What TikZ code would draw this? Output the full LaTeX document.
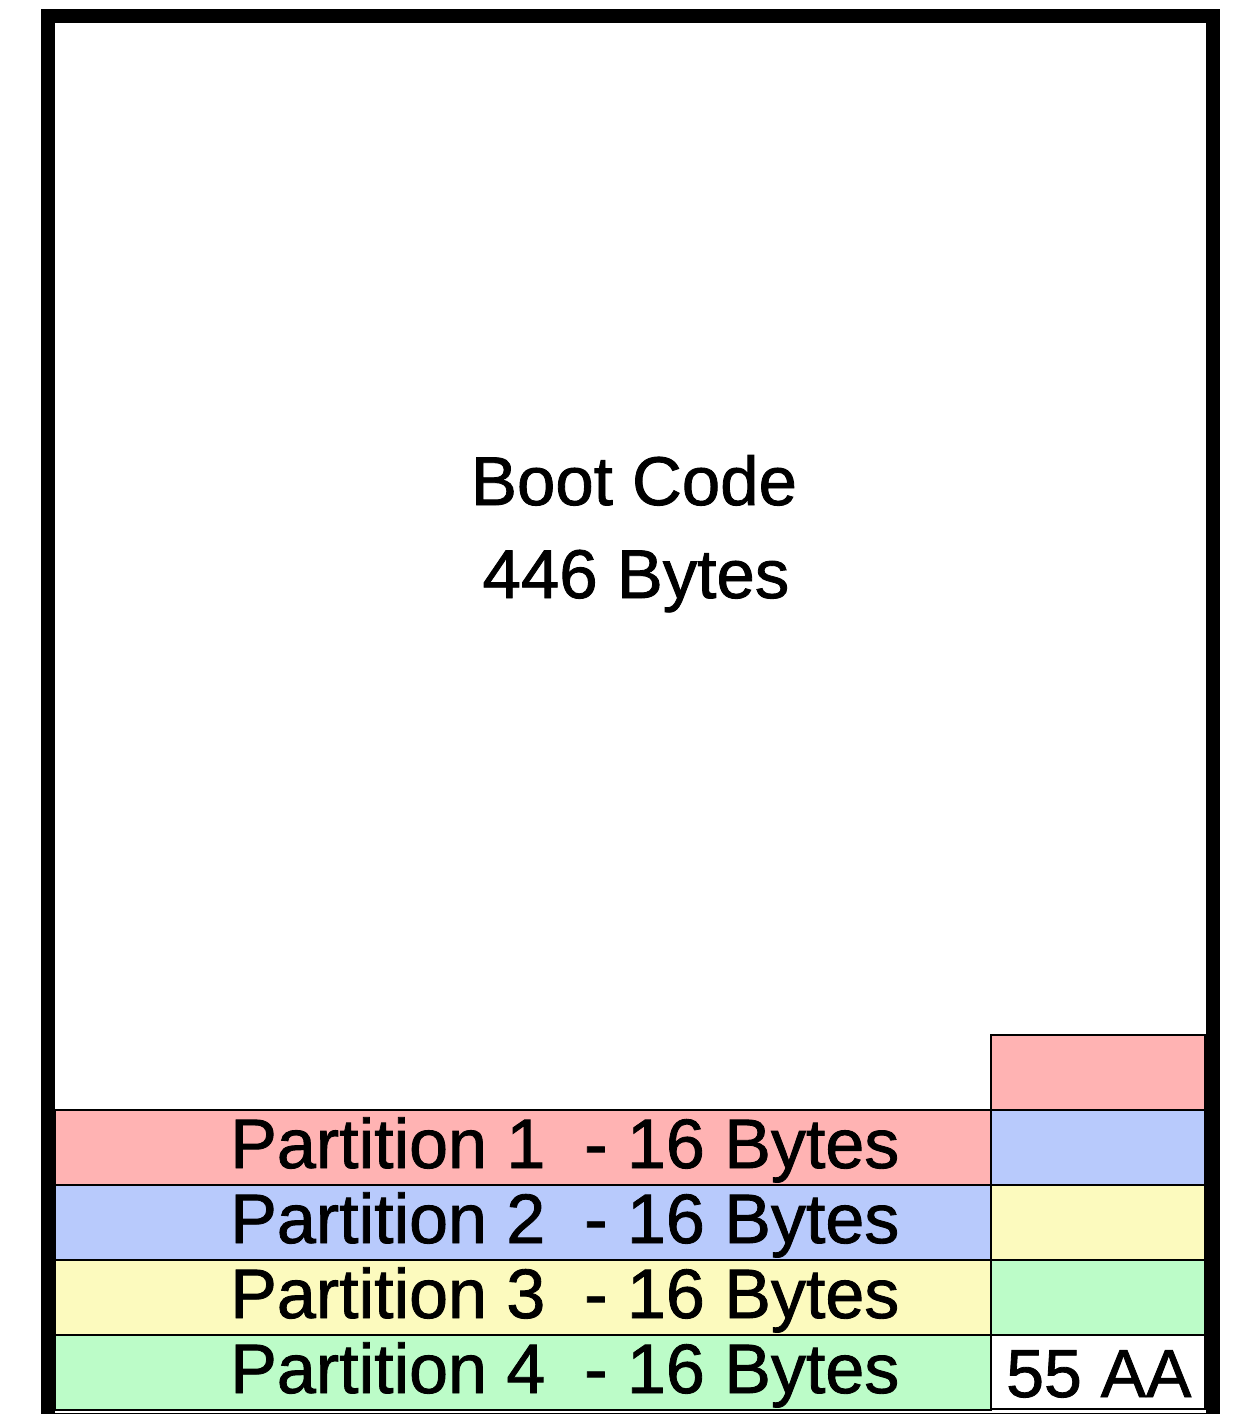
\documentclass[tikz,border=0pt]{standalone}
\usepackage{fontspec}
\setmainfont[FakeBold=1.2]{Liberation Sans}
\usetikzlibrary{positioning}
\definecolor{mbrPink}{HTML}{FFB3B3}
\definecolor{mbrBlue}{HTML}{B8CAFC}
\definecolor{mbrYellow}{HTML}{FCFABE}
\definecolor{mbrGreen}{HTML}{BCFCC8}
\tikzset{
  mbr frame/.style={draw=black, line width=14pt},
  mbr cell/.style={draw=black, line width=2.5pt, inner sep=0pt, outer sep=0pt, anchor=north west},
  mbr row/.style={mbr cell, minimum width=936pt, minimum height=75pt},
  mbr slot/.style={mbr cell, minimum width=214pt, minimum height=75pt},
  mbr label/.style={font=\fontsize{70}{80}\selectfont, text=black, inner sep=0pt, anchor=base west},
  mbr title/.style={font=\fontsize{69}{80}\selectfont, text=black, inner sep=0pt, anchor=base},
}

\begin{document}
\begin{tikzpicture}[x=1pt, y=-1pt]
  \useasboundingbox (0,0) rectangle (1235,1414);
  \fill[white] (0,0) rectangle (1235,1414);

  % Boot code area
  \node[mbr title] (boot) at (634,505) {Boot Code};
  \node[mbr title] (bootsize) at (636,598) {446 Bytes};

  % Partition rows
  \foreach \i/\col [count=\n from 0] in {1/mbrPink,2/mbrBlue,3/mbrYellow,4/mbrGreen} {
    \node[mbr row, fill=\col] (part\i) at (55,1110+75*\n) {};
    \node[mbr label] (part\i text) at (230,1168+75*\n) {Partition \i\ \ - 16 Bytes};
  }

  % Right column, one row higher
  \foreach \col [count=\n from 0] in {mbrPink,mbrBlue,mbrYellow,mbrGreen} {
    \node[mbr slot, fill=\col] (slot\n) at (991,1035+75*\n) {};
  }
  \node[mbr slot, fill=white, minimum height=74pt] (sig) at (991,1335) {};
  \node[mbr label, font=\fontsize{68}{80}\selectfont] (sig text) at (1006,1397) {55 AA};

  % Frame
  \draw[mbr frame] (48,16) rectangle (1212.5,1420);
\end{tikzpicture}
\end{document}
